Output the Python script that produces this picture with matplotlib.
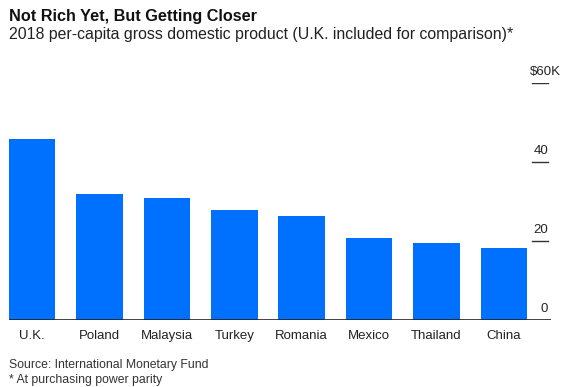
import matplotlib.pyplot as plt

plt.rcParams['font.family'] = ['Liberation Sans', 'DejaVu Sans']

# data (thousand US$, PPP)
countries = ['U.K.', 'Poland', 'Malaysia', 'Turkey', 'Romania', 'Mexico', 'Thailand', 'China']
gdp = [45.7, 31.8, 30.8, 27.9, 26.3, 20.7, 19.4, 18.2]
ticks = [0, 20, 40, 60]
tick_labels = ['0', '20', '40', '$60K']

W, H = 586, 387
fig = plt.figure(figsize=(W / 100, H / 100), dpi=100)

# axes placed in pixel units
left, right, bottom, top = 9, 551, 320, 83
ax = fig.add_axes([left / W, 1 - bottom / H, (right - left) / W, (bottom - top) / H])

x = range(len(countries))
ax.bar(x, gdp, width=0.69, color='#0070ff', zorder=2)
ax.set_xlim(-0.345, 7.70)
ax.set_ylim(0, 60)
ax.axis('off')

# baseline
ax.axhline(0, color='#222222', linewidth=1.2, zorder=3)

# right side tick marks and labels
for t in ticks[1:]:
    ax.axhline(t, xmin=0.965, xmax=0.9945, color='#333333', linewidth=1.0)
for t, lab in zip(ticks, tick_labels):
    xr = 548 if lab != '$60K' else 561
    fig.text(xr / W, 1 - (bottom - t * (bottom - top) / 60 - 11) / H, lab,
             ha='right', va='center', fontsize=9.5, color='#222222')

# category labels
for i, c in enumerate(countries):
    ax.text(i, -4, c, ha='center', va='center', fontsize=9.5, color='#222222')

fig.text(9 / W, 1 - 17 / H, 'Not Rich Yet, But Getting Closer', ha='left', va='center',
         fontsize=11.7, fontweight='bold', color='#111111')
fig.text(9 / W, 1 - 35 / H, '2018 per-capita gross domestic product (U.K. included for comparison)*',
         ha='left', va='center', fontsize=11.4, color='#222222')
fig.text(9 / W, 1 - 365 / H, 'Source: International Monetary Fund', ha='left', va='center',
         fontsize=8.8, color='#333333')
fig.text(9 / W, 1 - 380 / H, '* At purchasing power parity', ha='left', va='center',
         fontsize=8.8, color='#333333')

fig.savefig('out.png', dpi=100)
